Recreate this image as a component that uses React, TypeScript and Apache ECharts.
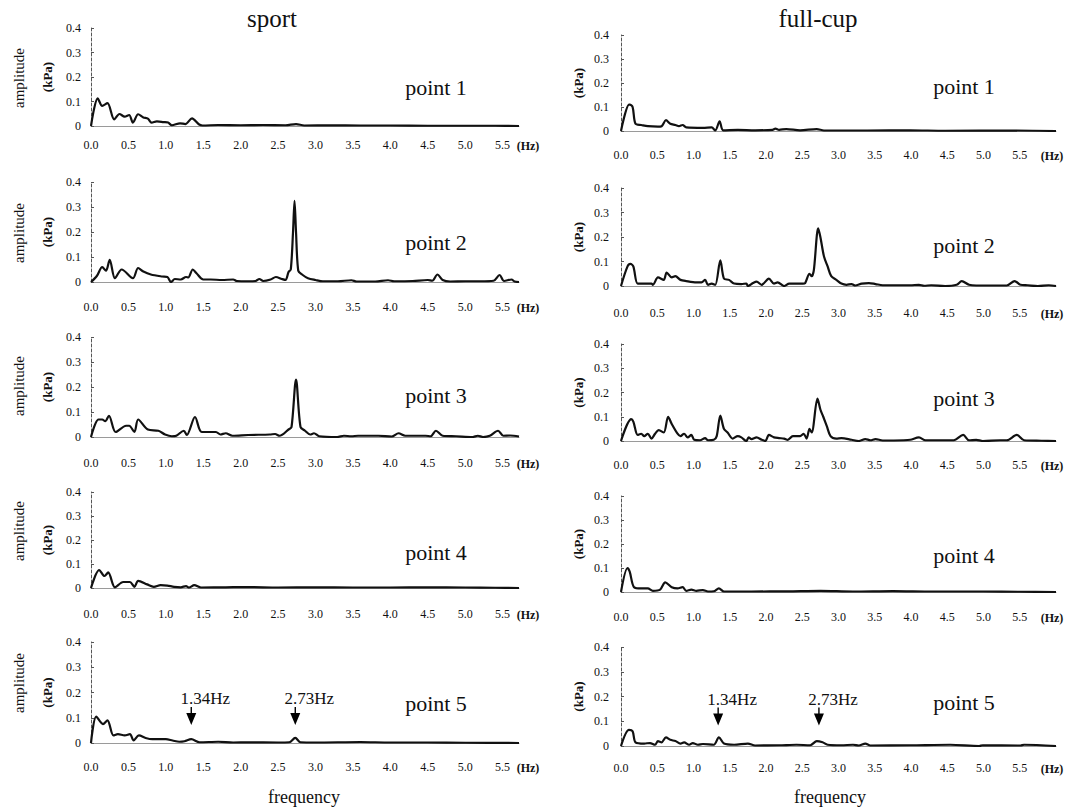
import React, { useEffect, useRef } from "react";
import * as echarts from "echarts";

const FONT = "'Liberation Serif', 'Times New Roman', Times, serif";

// ---- texts ----
const columnTitles = ["sport", "full-cup"];
const pointLabels = ["point 1", "point 2", "point 3", "point 4", "point 5"];
const yAxisName = "(kPa)";
const yTitle = "amplitude";
const xTitle = "frequency";
const xUnit = "(Hz)";

// ---- axes ----
const yMin = 0;
const yMax = 0.4;
const yStep = 0.1;
const xStep = 0.5;
const xLastLabel = 5.5;
const xMaxSport = 5.72;
const xMaxFullCup = 6.0;

// ---- annotations in the point 5 panels ----
const annotationFreqs = [1.34, 2.73];
const annotationLabels = ["1.34Hz", "2.73Hz"];
const annotationLevelSport = 0.107;
const annotationLevelFullCup = 0.119;

// ---- data: [frequency (Hz), amplitude (kPa)] ----
const sportP1: [number, number][] = [
  [0, 0], [0.09, 0.113], [0.15, 0.082], [0.22, 0.093], [0.31, 0.027], [0.38, 0.049],
  [0.45, 0.038], [0.51, 0.045], [0.56, 0.014], [0.63, 0.048], [0.7, 0.035], [0.76, 0.03],
  [0.81, 0.014], [0.88, 0.019], [0.97, 0.016], [1.03, 0.014], [1.08, 0.003], [1.19, 0.011],
  [1.26, 0.008], [1.35, 0.031], [1.44, 0.007], [1.49, 0.002], [1.7, 0.004], [2.0, 0.003],
  [2.3, 0.004], [2.6, 0.003], [2.74, 0.008], [2.85, 0.002], [3.2, 0.003], [3.6, 0.002],
  [4.0, 0.002], [4.5, 0.001], [5.0, 0.001], [5.4, 0.001], [5.72, 0],
];
const sportP2: [number, number][] = [
  [0, 0], [0.08, 0.025], [0.15, 0.06], [0.2, 0.045], [0.25, 0.089], [0.32, 0.015],
  [0.41, 0.05], [0.56, 0.015], [0.63, 0.056], [0.7, 0.042], [0.8, 0.03], [0.95, 0.022],
  [1.02, 0.02], [1.07, 0.0], [1.12, 0.012], [1.2, 0.01], [1.27, 0.02], [1.3, 0.018],
  [1.36, 0.05], [1.41, 0.035], [1.5, 0.01], [1.6, 0.01], [1.75, 0.008], [1.9, 0.01],
  [1.95, 0.004], [2.1, 0.003], [2.2, 0.004], [2.25, 0.012], [2.3, 0.004], [2.4, 0.01],
  [2.47, 0.02], [2.55, 0.012], [2.6, 0.008], [2.64, 0.04], [2.67, 0.05], [2.7, 0.2],
  [2.72, 0.325], [2.74, 0.2], [2.77, 0.045], [2.82, 0.03], [2.9, 0.015], [3.0, 0.008],
  [3.1, 0.003], [3.3, 0.003], [3.48, 0.007], [3.55, 0.002], [3.8, 0.002], [3.97, 0.007],
  [4.05, 0.003], [4.3, 0.004], [4.5, 0.008], [4.56, 0.005], [4.63, 0.03], [4.7, 0.008],
  [4.8, 0.002], [5.0, 0.003], [5.2, 0.003], [5.38, 0.005], [5.46, 0.028], [5.52, 0.004],
  [5.62, 0.01], [5.66, 0.002], [5.72, 0.0],
];
const sportP3: [number, number][] = [
  [0, 0], [0.1, 0.07], [0.15, 0.07], [0.19, 0.063], [0.24, 0.085], [0.33, 0.02],
  [0.47, 0.045], [0.51, 0.045], [0.58, 0.02], [0.63, 0.07], [0.76, 0.03], [0.9, 0.025],
  [0.99, 0.01], [1.08, 0.003], [1.14, 0.005], [1.24, 0.025], [1.28, 0.008], [1.39, 0.08],
  [1.48, 0.02], [1.67, 0.02], [1.73, 0.01], [1.8, 0.015], [1.89, 0.005], [2.1, 0.008],
  [2.39, 0.01], [2.46, 0.012], [2.52, 0.005], [2.64, 0.03], [2.68, 0.04], [2.74, 0.23],
  [2.8, 0.04], [2.86, 0.025], [2.93, 0.01], [2.98, 0.015], [3.05, 0.003], [3.29, 0.0],
  [3.38, 0.005], [3.48, 0.003], [3.57, 0.005], [3.84, 0.005], [4.02, 0.002], [4.11, 0.015],
  [4.2, 0.005], [4.47, 0.005], [4.54, 0.003], [4.61, 0.025], [4.7, 0.005], [4.88, 0.003],
  [5.1, 0.0], [5.17, 0.005], [5.24, 0.0], [5.33, 0.005], [5.44, 0.025], [5.51, 0.005],
  [5.6, 0.006], [5.72, 0.002],
];
const sportP4: [number, number][] = [
  [0, 0], [0.11, 0.075], [0.18, 0.05], [0.23, 0.065], [0.32, 0.003], [0.43, 0.025],
  [0.52, 0.025], [0.58, 0.005], [0.63, 0.03], [0.75, 0.015], [0.84, 0.005], [0.93, 0.012],
  [1.02, 0.01], [1.11, 0.005], [1.2, 0.003], [1.27, 0.008], [1.31, 0.002], [1.38, 0.012],
  [1.47, 0.002], [1.8, 0.003], [2.1, 0.004], [2.5, 0.002], [3.0, 0.003], [3.5, 0.002],
  [4.0, 0.002], [4.5, 0.003], [5.0, 0.002], [5.4, 0.001], [5.72, 0],
];
const sportP5: [number, number][] = [
  [0, 0], [0.07, 0.105], [0.16, 0.075], [0.22, 0.09], [0.3, 0.03], [0.36, 0.035],
  [0.45, 0.03], [0.52, 0.035], [0.57, 0.01], [0.64, 0.03], [0.73, 0.02], [0.82, 0.015],
  [1.0, 0.015], [1.09, 0.01], [1.18, 0.005], [1.25, 0.007], [1.34, 0.015], [1.45, 0.003],
  [1.7, 0.005], [1.9, 0.002], [2.1, 0.003], [2.5, 0.002], [2.65, 0.003], [2.73, 0.02],
  [2.8, 0.003], [3.0, 0.002], [3.6, 0.004], [4.0, 0.002], [4.5, 0.002], [5.0, 0.001],
  [5.72, 0],
];

const fullCupP1: [number, number][] = [
  [0, 0], [0.11, 0.11], [0.12, 0.11], [0.16, 0.1], [0.2, 0.03], [0.28, 0.025],
  [0.37, 0.02], [0.51, 0.018], [0.56, 0.02], [0.62, 0.045], [0.68, 0.03], [0.75, 0.025],
  [0.8, 0.02], [0.85, 0.025], [0.9, 0.015], [1.13, 0.013], [1.25, 0.015], [1.3, 0.002],
  [1.36, 0.04], [1.41, 0.003], [1.61, 0.005], [1.85, 0.003], [2.09, 0.005], [2.13, 0.01],
  [2.18, 0.005], [2.28, 0.008], [2.47, 0.003], [2.7, 0.008], [2.8, 0.002], [3.4, 0.002],
  [3.99, 0.003], [4.47, 0.001], [5.42, 0.002], [6.0, 0],
];
const fullCupP2: [number, number][] = [
  [0, 0], [0.09, 0.08], [0.13, 0.09], [0.17, 0.08], [0.23, 0.01], [0.32, 0.01],
  [0.42, 0.01], [0.44, 0.005], [0.51, 0.035], [0.59, 0.025], [0.63, 0.055], [0.7, 0.035],
  [0.75, 0.04], [0.82, 0.025], [0.9, 0.02], [1.04, 0.015], [1.11, 0.015], [1.16, 0.025],
  [1.2, 0.005], [1.25, 0.01], [1.3, 0.005], [1.37, 0.105], [1.42, 0.03], [1.49, 0.025],
  [1.56, 0.01], [1.66, 0.008], [1.73, 0.01], [1.75, 0.0], [1.82, 0.012], [1.87, 0.018],
  [1.94, 0.005], [2.04, 0.03], [2.11, 0.01], [2.16, 0.015], [2.25, 0.0], [2.32, 0.01],
  [2.51, 0.01], [2.54, 0.012], [2.6, 0.05], [2.63, 0.04], [2.66, 0.065], [2.72, 0.235],
  [2.75, 0.2], [2.8, 0.12], [2.85, 0.08], [2.9, 0.04], [2.97, 0.025], [3.04, 0.01],
  [3.11, 0.005], [3.18, 0.008], [3.23, 0.002], [3.32, 0.01], [3.42, 0.012], [3.51, 0.008],
  [3.61, 0.003], [3.99, 0.003], [4.11, 0.005], [4.18, 0.001], [4.28, 0.003], [4.47, 0.0],
  [4.63, 0.005], [4.7, 0.02], [4.8, 0.005], [4.9, 0.002], [5.32, 0.002], [5.43, 0.02],
  [5.51, 0.005], [5.61, 0.003], [5.75, 0.0], [5.9, 0.003], [6.0, 0],
];
const fullCupP3: [number, number][] = [
  [0, 0], [0.14, 0.09], [0.17, 0.08], [0.23, 0.025], [0.28, 0.03], [0.32, 0.02],
  [0.37, 0.03], [0.42, 0.01], [0.47, 0.03], [0.52, 0.045], [0.59, 0.035], [0.65, 0.1],
  [0.7, 0.07], [0.78, 0.03], [0.82, 0.02], [0.87, 0.03], [0.92, 0.015], [0.97, 0.025],
  [1.01, 0.005], [1.09, 0.003], [1.16, 0.012], [1.2, 0.003], [1.28, 0.005], [1.32, 0.02],
  [1.37, 0.105], [1.42, 0.05], [1.47, 0.035], [1.54, 0.01], [1.61, 0.02], [1.66, 0.015],
  [1.73, 0.0], [1.76, 0.015], [1.8, 0.008], [1.87, 0.015], [1.94, 0.005], [1.99, 0.0],
  [2.04, 0.025], [2.11, 0.015], [2.18, 0.012], [2.25, 0.01], [2.3, 0.005], [2.37, 0.02],
  [2.47, 0.02], [2.52, 0.03], [2.56, 0.01], [2.6, 0.05], [2.63, 0.035], [2.71, 0.175],
  [2.75, 0.13], [2.79, 0.1], [2.84, 0.06], [2.89, 0.02], [2.97, 0.01], [3.04, 0.012],
  [3.18, 0.005], [3.28, 0.0], [3.37, 0.008], [3.44, 0.003], [3.51, 0.008], [3.61, 0.002],
  [3.9, 0.003], [3.99, 0.005], [4.11, 0.015], [4.2, 0.003], [4.47, 0.003], [4.59, 0.003],
  [4.72, 0.025], [4.8, 0.003], [4.9, 0.005], [4.99, 0.0], [5.23, 0.003], [5.32, 0.003],
  [5.46, 0.025], [5.56, 0.003], [5.8, 0.001], [6.0, 0],
];
const fullCupP4: [number, number][] = [
  [0, 0], [0.09, 0.1], [0.12, 0.085], [0.18, 0.02], [0.28, 0.015], [0.37, 0.015],
  [0.44, 0.005], [0.54, 0.01], [0.61, 0.04], [0.7, 0.02], [0.78, 0.015], [0.85, 0.02],
  [0.9, 0.005], [0.97, 0.01], [1.04, 0.005], [1.13, 0.008], [1.2, 0.002], [1.28, 0.003],
  [1.35, 0.015], [1.42, 0.002], [1.8, 0.002], [2.3, 0.003], [2.75, 0.005], [3.2, 0.002],
  [3.75, 0.004], [4.3, 0.002], [5.0, 0.002], [5.5, 0.001], [6.0, 0],
];
const fullCupP5: [number, number][] = [
  [0, 0], [0.11, 0.065], [0.16, 0.06], [0.2, 0.015], [0.32, 0.01], [0.4, 0.012],
  [0.47, 0.005], [0.51, 0.02], [0.56, 0.015], [0.62, 0.035], [0.68, 0.025], [0.75, 0.02],
  [0.82, 0.01], [0.87, 0.015], [0.94, 0.005], [0.99, 0.012], [1.06, 0.005], [1.13, 0.008],
  [1.28, 0.005], [1.35, 0.035], [1.42, 0.01], [1.56, 0.005], [1.75, 0.01], [1.85, 0.002],
  [2.18, 0.003], [2.42, 0.005], [2.61, 0.003], [2.7, 0.02], [2.78, 0.015], [2.85, 0.005],
  [3.04, 0.003], [3.2, 0.005], [3.28, 0.002], [3.37, 0.01], [3.44, 0.002], [3.99, 0.003],
  [4.54, 0.005], [4.94, 0.0], [4.99, 0.003], [5.51, 0.002], [5.56, 0.005], [6.0, 0],
];

const sportSeries = [sportP1, sportP2, sportP3, sportP4, sportP5];
const fullCupSeries = [fullCupP1, fullCupP2, fullCupP3, fullCupP4, fullCupP5];

// ---- layout (pixels) ----
const COLUMNS = [
  {
    data: sportSeries, xMax: xMaxSport, level: annotationLevelSport,
    x0: 91, width: 428,
    rows: [[28, 126], [182, 282], [337, 437], [492, 588], [642, 743]],
    labelMargins: [13, 19, 20, 20, 18],
    hzX: 528, pointX: 436, pointY: [87, 242, 395, 552, 703],
    titleX: 272, freqX: 304, kpaGap: 37, yLabelMargin: 10,
  },
  {
    data: fullCupSeries, xMax: xMaxFullCup, level: annotationLevelFullCup,
    x0: 621, width: 435,
    rows: [[35, 131], [188, 286], [344, 441], [496, 592], [647, 746]],
    labelMargins: [18, 21, 18, 19, 16],
    hzX: 1052, pointX: 964, pointY: [86, 245, 398, 555, 702],
    titleX: 818, freqX: 830, kpaGap: 36, yLabelMargin: 12,
  },
];
const amplitudeY = [78, 233, 386, 531, 683];

const ARROW = "path://M4.3,0L5.7,0L5.7,6L10,6L5,18L0,6L4.3,6Z";

function fmtX(v: number) {
  const k = v / xStep;
  if (v > xLastLabel + 1e-6) return "";
  return Math.abs(k - Math.round(k)) < 1e-6 ? v.toFixed(1) : "";
}

function textEl(text: string, x: number, y: number, size: number, extra: any = {}) {
  return {
    type: "text",
    x,
    y,
    rotation: extra.rotation || 0,
    silent: true,
    style: {
      text,
      fontSize: size,
      fontFamily: FONT,
      fontWeight: extra.bold ? "bold" : "normal",
      fill: "#111",
      align: "center",
      verticalAlign: "middle",
      textAlign: "center",
      textVerticalAlign: "middle",
    },
  };
}

function buildOption() {
  const grid: any[] = [];
  const xAxis: any[] = [];
  const yAxis: any[] = [];
  const series: any[] = [];
  const graphic: any[] = [];

  COLUMNS.forEach((col, c) => {
    graphic.push(textEl(columnTitles[c], col.titleX, 18, 25));
    graphic.push(textEl(xTitle, col.freqX, 797, 18));
    col.rows.forEach(([top, bottom], r) => {
      const idx = grid.length;
      grid.push({ left: col.x0, top, width: col.width, height: bottom - top });
      xAxis.push({
        type: "value",
        gridIndex: idx,
        min: 0,
        max: col.xMax,
        interval: xStep,
        axisLine: { show: true, onZero: false, lineStyle: { color: "#9a9a9a", width: 1 } },
        axisTick: { show: false },
        splitLine: { show: false },
        axisLabel: {
          margin: col.labelMargins[r],
          fontSize: 12,
          fontFamily: FONT,
          color: "#111",
          formatter: fmtX,
          hideOverlap: false,
        },
      });
      yAxis.push({
        type: "value",
        gridIndex: idx,
        min: yMin,
        max: yMax,
        interval: yStep,
        name: yAxisName,
        nameLocation: "middle",
        nameRotate: 90,
        nameGap: col.kpaGap,
        nameTextStyle: { fontSize: 13, fontWeight: "bold", fontFamily: FONT, color: "#111" },
        axisLine: { show: true, lineStyle: { color: "#555", width: 1, type: [3, 2] } },
        axisTick: { show: true, inside: true, length: 3, lineStyle: { color: "#555" } },
        splitLine: { show: false },
        axisLabel: { margin: col.yLabelMargin, fontSize: 12, fontFamily: FONT, color: "#111" },
      });
      const s: any = {
        type: "line",
        xAxisIndex: idx,
        yAxisIndex: idx,
        data: col.data[r],
        showSymbol: false,
        smooth: 0.3,
        silent: true,
        lineStyle: { color: "#111", width: 2.2 },
      };
      if (r === 4) {
        s.markPoint = {
          silent: true,
          symbol: ARROW,
          symbolSize: [10, 18],
          itemStyle: { color: "#000" },
          label: {
            show: true,
            position: "top",
            distance: 0,
            offset: [14, 0],
            formatter: "{b}",
            fontSize: 17,
            fontFamily: FONT,
            color: "#111",
          },
          data: annotationFreqs.map((f, i) => ({ name: annotationLabels[i], coord: [f, col.level] })),
        };
      }
      series.push(s);

      graphic.push(textEl(pointLabels[r], col.pointX, col.pointY[r], 22));
      const labelY = bottom + col.labelMargins[r] + 7;
      graphic.push(textEl(xUnit, col.hzX, labelY, 12, { bold: true }));
      if (c === 0) {
        graphic.push(textEl(yTitle, 19, amplitudeY[r], 15, { rotation: Math.PI / 2 }));
      }
    });
  });

  return {
    animation: false,
    backgroundColor: "#ffffff",
    grid,
    xAxis,
    yAxis,
    series,
    graphic: { elements: graphic },
  };
}

export default function App() {
  const ref = useRef<HTMLDivElement>(null);
  useEffect(() => {
    if (!ref.current) return;
    const chart = echarts.init(ref.current, undefined, { renderer: "svg" });
    chart.setOption(buildOption() as any);
    return () => chart.dispose();
  }, []);
  return (
    <div
      ref={ref}
      style={{ position: "absolute", left: 0, top: 0, width: 1076, height: 810, background: "#fff" }}
    />
  );
}
